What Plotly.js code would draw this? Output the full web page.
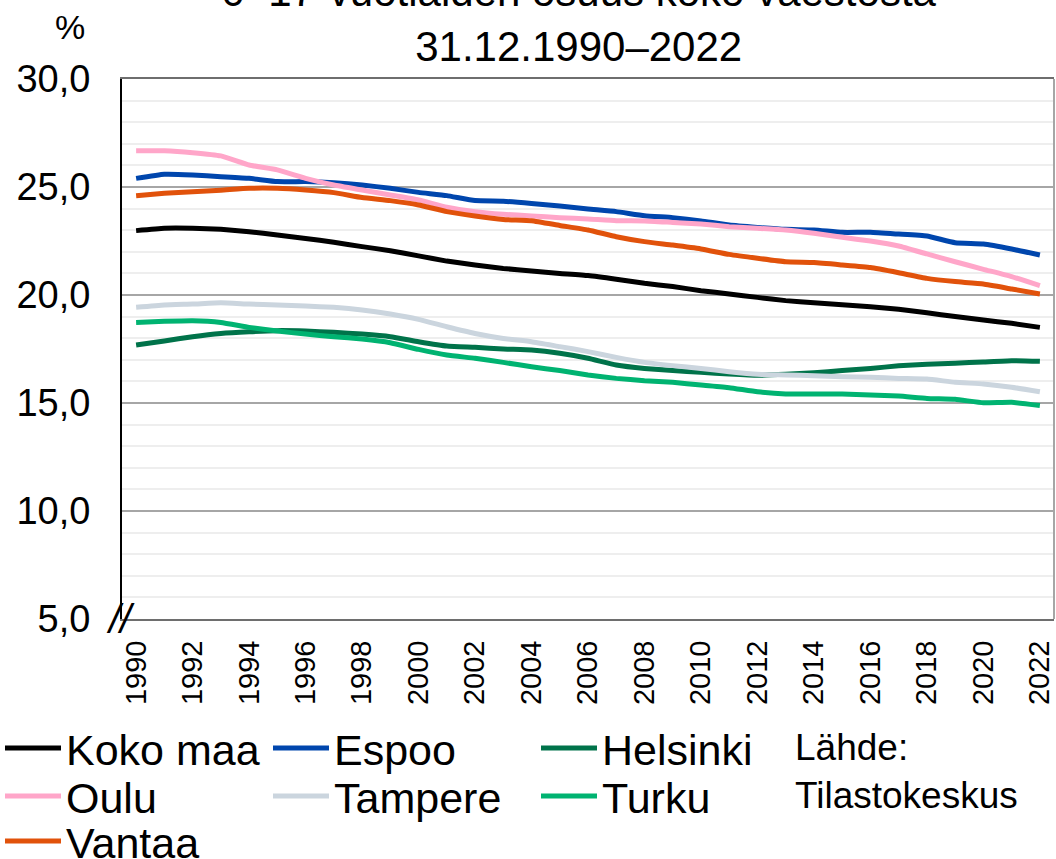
<!DOCTYPE html>
<html>
<head>
<meta charset="utf-8">
<script src="https://cdn.plot.ly/plotly-3.0.1.min.js"></script>
<style>html,body{margin:0;padding:0;background:#fff;}#chart{width:1056px;height:859px;}</style>
</head>
<body>
<div id="chart"></div>
<script>
const years = [1990,1991,1992,1993,1994,1995,1996,1997,1998,1999,2000,2001,2002,2003,2004,2005,2006,2007,2008,2009,2010,2011,2012,2013,2014,2015,2016,2017,2018,2019,2020,2021,2022];
const kokoMaa = [22.98,23.09,23.09,23.04,22.93,22.78,22.62,22.44,22.24,22.05,21.81,21.57,21.39,21.23,21.11,21.00,20.90,20.73,20.54,20.39,20.20,20.05,19.89,19.74,19.64,19.55,19.46,19.34,19.18,19.00,18.84,18.69,18.50];
const espoo = [25.40,25.59,25.56,25.48,25.40,25.25,25.25,25.20,25.09,24.94,24.75,24.60,24.37,24.34,24.24,24.12,23.98,23.86,23.67,23.58,23.43,23.24,23.13,23.04,23.01,22.90,22.90,22.82,22.73,22.42,22.36,22.13,21.85];
const helsinki = [17.69,17.87,18.07,18.22,18.30,18.35,18.33,18.27,18.19,18.07,17.84,17.64,17.58,17.50,17.45,17.30,17.07,16.76,16.60,16.50,16.42,16.34,16.28,16.33,16.40,16.50,16.60,16.72,16.79,16.84,16.90,16.96,16.93];
const oulu = [26.68,26.68,26.59,26.44,26.02,25.79,25.40,25.09,24.86,24.63,24.40,24.06,23.86,23.74,23.66,23.58,23.52,23.44,23.43,23.36,23.29,23.16,23.09,23.01,22.86,22.67,22.50,22.27,21.90,21.54,21.19,20.85,20.43];
const tampere = [19.43,19.54,19.58,19.64,19.58,19.54,19.49,19.43,19.31,19.12,18.87,18.53,18.22,17.99,17.84,17.61,17.38,17.11,16.88,16.73,16.60,16.45,16.33,16.30,16.26,16.22,16.19,16.14,16.11,15.96,15.88,15.73,15.52];
const turku = [18.73,18.78,18.81,18.73,18.50,18.33,18.19,18.07,17.96,17.79,17.48,17.22,17.07,16.88,16.68,16.50,16.30,16.14,16.03,15.96,15.83,15.71,15.52,15.42,15.42,15.42,15.37,15.32,15.21,15.17,15.01,15.03,14.88];
const vantaa = [24.60,24.71,24.78,24.85,24.94,24.94,24.86,24.74,24.51,24.37,24.17,23.86,23.66,23.50,23.44,23.22,23.01,22.70,22.47,22.31,22.13,21.88,21.70,21.54,21.50,21.39,21.27,21.03,20.77,20.62,20.51,20.28,20.05];

const seriesNames = ['Koko maa','Espoo','Helsinki','Oulu','Tampere','Turku','Vantaa'];
const seriesValues = [kokoMaa, espoo, helsinki, oulu, tampere, turku, vantaa];
const seriesColors = ['#000000','#0046AD','#00734A','#FFA6C9','#CBD5DE','#00B371','#E1520B'];
const seriesLegend = ['legend','legend','legend','legend2','legend2','legend2','legend3'];

const titleText = '0–17-vuotiaiden osuus koko väestöstä<br>31.12.1990–2022';
const sourceText = 'Lähde:<br>Tilastokeskus';

const FONT = 'Liberation Sans, Arial, sans-serif';

const traces = seriesNames.map((n, i) => ({
  type: 'scatter', mode: 'lines', name: n,
  x: years, y: seriesValues[i],
  line: {color: seriesColors[i], width: 5, shape: 'spline', smoothing: 0.4},
  legend: seriesLegend[i],
  hoverinfo: 'x+y+name'
}));

const legendBase = {
  orientation: 'h', xref: 'container', x: 0, xanchor: 'left',
  yref: 'container', yanchor: 'middle',
  entrywidth: 197, entrywidthmode: 'pixels', itemwidth: 56,
  font: {family: FONT, size: 43, color: '#000'},
  bgcolor: 'rgba(0,0,0,0)', borderwidth: 0, tracegroupgap: 0
};

const layout = {
  width: 1056, height: 859,
  paper_bgcolor: '#fff', plot_bgcolor: '#fff',
  font: {family: FONT, color: '#000'},
  margin: {l: 122, r: 2, t: 79, b: 240, autoexpand: false},
  title: {
    text: titleText, font: {family: FONT, size: 42, color: '#000'},
    xref: 'paper', x: 0.49, xanchor: 'center',
    yref: 'container', y: 1 - 6/859, yanchor: 'bottom'
  },
  xaxis: {
    range: [1989.5, 2022.5], tick0: 1990, dtick: 2, tickformat: 'd',
    tickangle: -90, tickfont: {family: FONT, size: 29, color: '#000'},
    showgrid: false, zeroline: false,
    showline: true, linecolor: '#6e6e6e', linewidth: 2, mirror: true,
    ticks: '', ticklabelstandoff: 8, fixedrange: true
  },
  yaxis: {
    range: [5, 30], tick0: 5, dtick: 5, tickformat: '.1f',
    tickfont: {family: FONT, size: 38, color: '#000'},
    showgrid: true, gridcolor: '#a6a6a6', gridwidth: 2,
    minor: {dtick: 1, showgrid: true, gridcolor: '#eeeeee', gridwidth: 2},
    zeroline: false, showline: true, linecolor: '#000', linewidth: 2,
    ticks: '', ticklabelstandoff: 22, fixedrange: true
  },
  separators: ', ',
  showlegend: true,
  legend: Object.assign({}, legendBase, {y: 1 - 748/859}),
  legend2: Object.assign({}, legendBase, {y: 1 - 796/859}),
  legend3: Object.assign({}, legendBase, {y: 1 - 841/859}),
  shapes: [
    {type: 'line', xref: 'paper', yref: 'paper', x0: 1, x1: 1, y0: 0, y1: 1, line: {color: '#a6a6a6', width: 2}}
  ],
  annotations: [
    {text: '%', xref: 'paper', yref: 'paper', x: (70-122)/932, y: (619-27)/540, xanchor: 'center', yanchor: 'middle', showarrow: false, font: {family: FONT, size: 34, color: '#000'}},
    {text: sourceText, xref: 'paper', yref: 'paper', x: (793-122)/932, y: (619-772)/540, xanchor: 'left', yanchor: 'middle', align: 'left', showarrow: false, font: {family: FONT, size: 37, color: '#000'}},
    {text: '<i>//</i>', xref: 'paper', yref: 'y', x: -2/932, y: 5, xanchor: 'center', yanchor: 'middle', showarrow: false, font: {family: FONT, size: 40, color: '#000'}}
  ]
};

Plotly.newPlot('chart', traces, layout, {displayModeBar: false, staticPlot: true});
</script>
</body>
</html>
